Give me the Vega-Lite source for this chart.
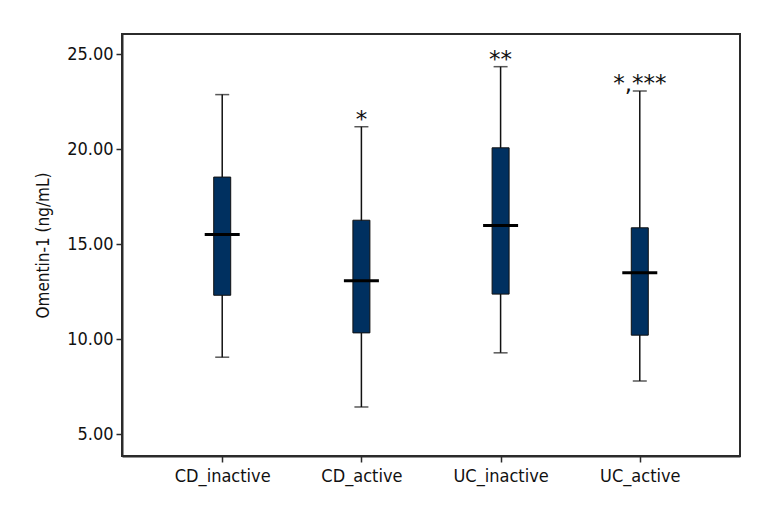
{
  "$schema": "https://vega.github.io/schema/vega-lite/v6.json",
  "width": 618,
  "height": 422,
  "autosize": {"type": "none"},
  "padding": {"left": 122, "top": 34, "right": 28, "bottom": 72},
  "background": "white",
  "config": {
    "view": {"stroke": "#2b2b2b", "strokeWidth": 2},
    "font": "'DejaVu Sans Condensed', 'Liberation Sans Narrow', sans-serif",
    "axis": {
      "labelFont": "'DejaVu Sans Condensed', 'Liberation Sans Narrow', sans-serif",
      "titleFont": "'DejaVu Sans Condensed', 'Liberation Sans Narrow', sans-serif",
      "labelColor": "#111",
      "titleColor": "#111",
      "domainColor": "#2b2b2b",
      "domainWidth": 2,
      "tickColor": "#2b2b2b",
      "tickWidth": 1.5,
      "grid": false
    }
  },
  "data": {
    "values": [
      {"group": "CD_inactive", "min": 9.06, "q1": 12.32, "median": 15.52, "q3": 18.54, "max": 22.88, "label": ""},
      {"group": "CD_active", "min": 6.44, "q1": 10.34, "median": 13.08, "q3": 16.27, "max": 21.19, "label": "*"},
      {"group": "UC_inactive", "min": 9.29, "q1": 12.38, "median": 15.99, "q3": 20.08, "max": 24.35, "label": "**"},
      {"group": "UC_active", "min": 7.81, "q1": 10.22, "median": 13.5, "q3": 15.87, "max": 23.07, "label": "*,***"}
    ]
  },
  "encoding": {
    "x": {
      "field": "group",
      "type": "nominal",
      "sort": ["CD_inactive", "CD_active", "UC_inactive", "UC_active"],
      "scale": {"type": "point", "padding": 0.72},
      "axis": {"title": null, "labelAngle": 0, "labelFontSize": 18, "tickSize": 6, "labelPadding": 5}
    }
  },
  "layer": [
    {
      "mark": {"type": "rule", "color": "#111", "strokeWidth": 1.5},
      "encoding": {
        "y": {
          "field": "min",
          "type": "quantitative",
          "scale": {"domain": [3.86, 26.07], "nice": false, "zero": false},
          "axis": {
            "title": "Omentin-1 (ng/mL)",
            "titleFontSize": 17,
            "titleFontWeight": "normal",
            "values": [5, 10, 15, 20, 25],
            "format": ".2f",
            "labelFontSize": 18,
            "tickSize": 6,
            "labelPadding": 3,
            "titlePadding": 14
          }
        },
        "y2": {"field": "max"}
      }
    },
    {
      "mark": {"type": "tick", "color": "#111", "size": 14, "thickness": 1.5},
      "encoding": {"y": {"field": "min", "type": "quantitative"}}
    },
    {
      "mark": {"type": "tick", "color": "#111", "size": 14, "thickness": 1.5},
      "encoding": {"y": {"field": "max", "type": "quantitative"}}
    },
    {
      "mark": {"type": "bar", "size": 17, "color": "#003060", "stroke": "#111", "strokeWidth": 1},
      "encoding": {
        "y": {"field": "q1", "type": "quantitative"},
        "y2": {"field": "q3"}
      }
    },
    {
      "mark": {"type": "tick", "color": "#000", "size": 35, "thickness": 3, "opacity": 1},
      "encoding": {"y": {"field": "median", "type": "quantitative"}}
    },
    {
      "mark": {"type": "text", "fontSize": 23, "dy": 5, "baseline": "bottom", "color": "#111", "font": "DejaVu Sans"},
      "encoding": {
        "y": {"field": "max", "type": "quantitative"},
        "text": {"field": "label"}
      }
    }
  ]
}
